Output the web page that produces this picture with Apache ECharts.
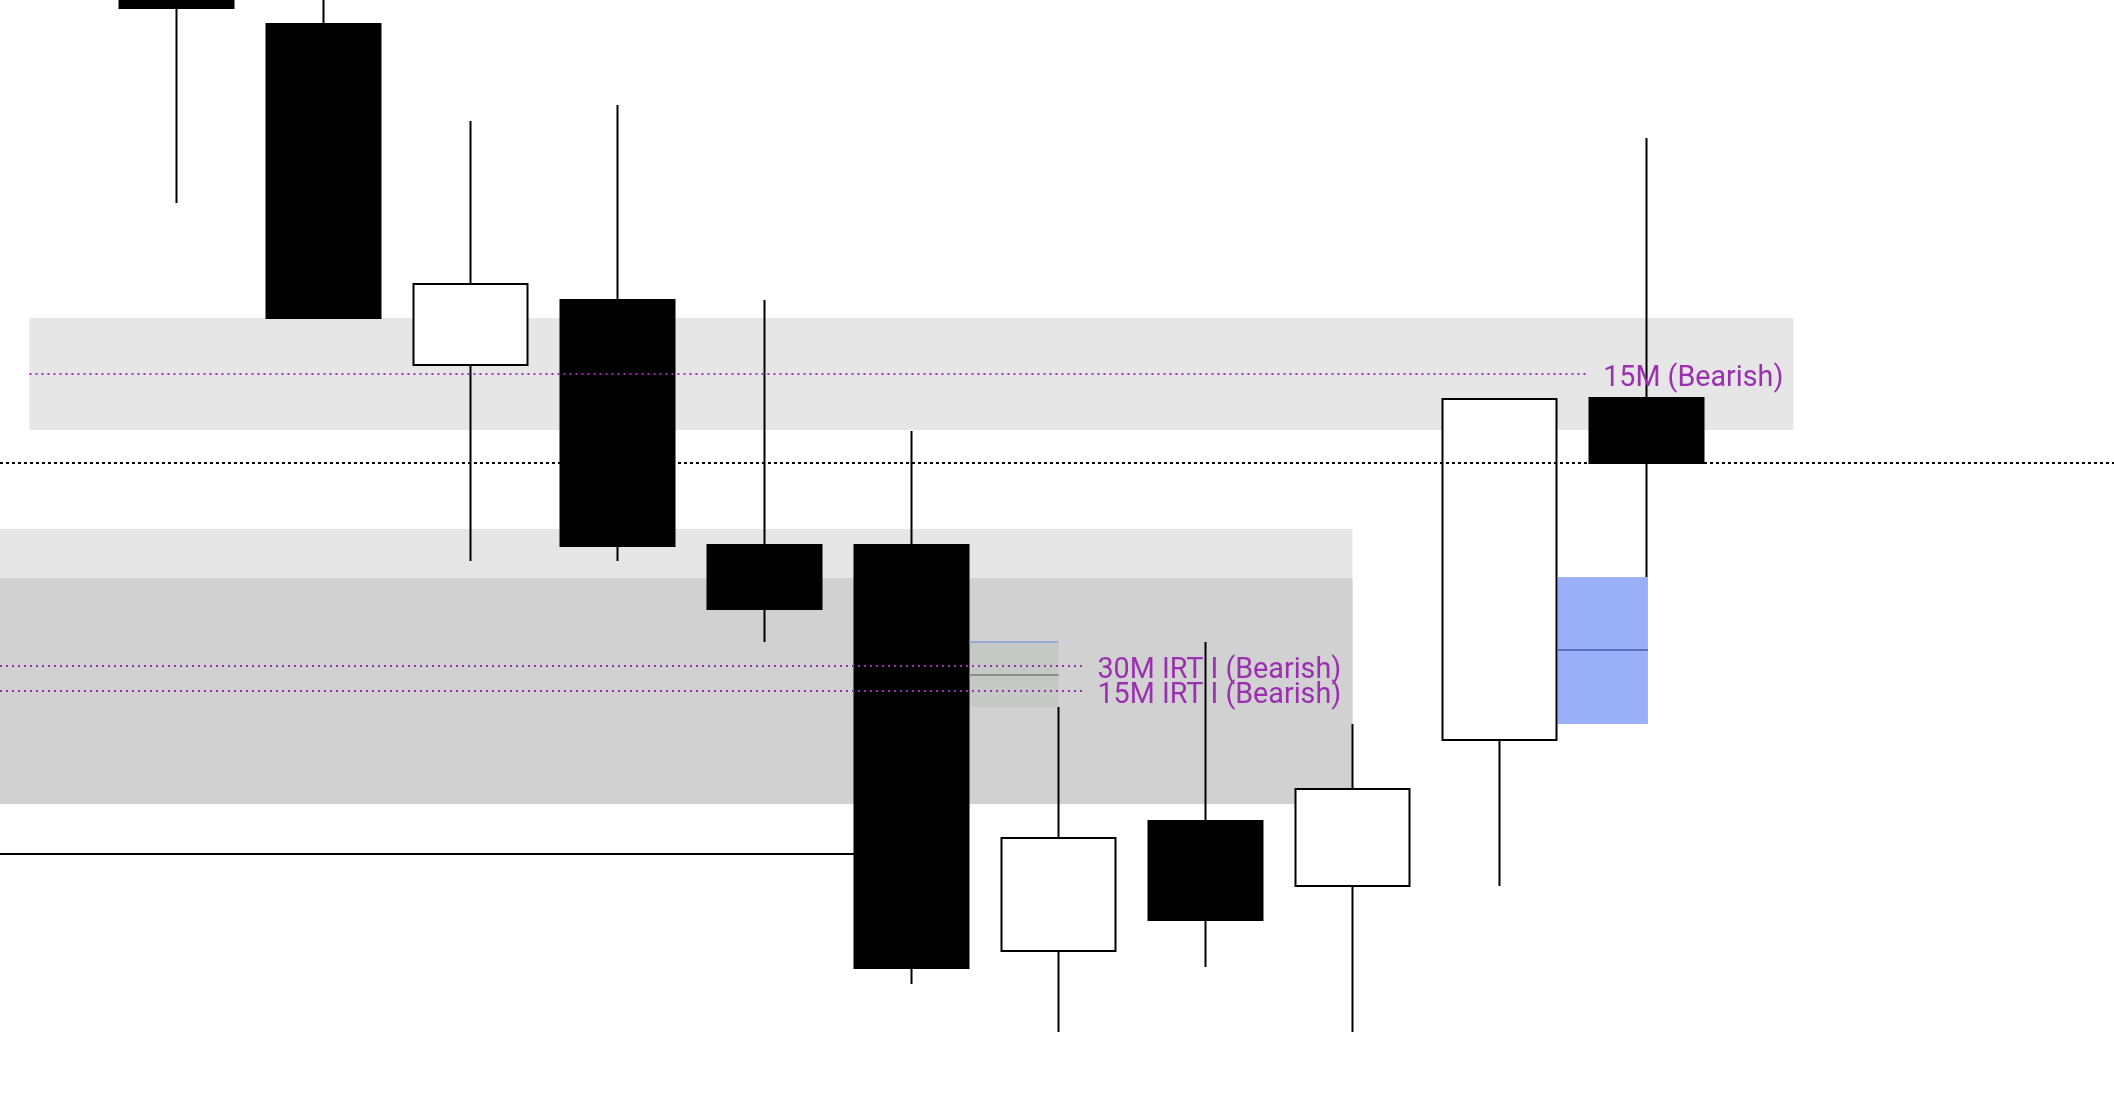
<!DOCTYPE html>
<html>
<head>
<meta charset="utf-8">
<script src="https://cdn.jsdelivr.net/npm/echarts@6/dist/echarts.min.js"></script>
<style>
html,body{margin:0;padding:0;background:#fff;}
#chart{width:2114px;height:1098px;}
</style>
</head>
<body>
<div id="chart"></div>
<script>
// candle slot positions (slot units along the time axis)
const slots  = [1, 2, 3, 4, 5, 6, 7, 8, 9, 10, 11];
const opens  = [1138, 1074, 733, 798, 553, 553, 147, 277, 212, 358, 700];
const closes = [1090,  780, 814, 552, 489, 130, 260, 178, 309, 699, 635];
const lows   = [ 895,  780, 537, 537, 456, 114,  66, 131,  66, 212, 521];
const highs  = [1178, 1128, 977, 993, 798, 667, 391, 456, 374, 699, 960];

// visible window of the time axis (slot units)
const xMin = -0.2007;
const xMax = 14.1803;

// zones: [xStart, xEnd, yLow, yHigh]
const zoneUpper = [0, 12, 668, 780];
const zoneLowerLight = [xMin, 9, 294, 569];
const zoneLowerDark = [xMin, 9, 294, 520];
const gapSmall = [6.395, 7.0, 391, 456];
const gapSmallMid = 423;
const gapBlue = [10.395, 11.01, 374, 521];
const gapBlueMid = 448;

// levels
const levelNames = ['15M (Bearish)', '30M IRT I (Bearish)', '15M IRT I (Bearish)'];
const levelValues = [724, 432, 407];
const levelStarts = [0, xMin, xMin];
const levelEnds = [10.61, 7.17, 7.17];
const closeLevel = 635;
const oldLevel = 244;
const oldLevelEnd = 6;

const candleData = slots.map((s, i) => [s, opens[i], closes[i], lows[i], highs[i]]);

function rect(z, color) {
  return [{coord: [z[0], z[3]], itemStyle: {color: color}}, {coord: [z[1], z[2]]}];
}
function hline(x1, x2, y, name) {
  return [{coord: [x1, y], name: name || ''}, {coord: [x2, y]}];
}

const labelFont = {fontFamily: 'Roboto', fontSize: 28.7, color: '#9a30b0'};

const option = {
  animation: false,
  backgroundColor: '#ffffff',
  grid: {left: 0, right: 0, top: 0, bottom: 0, containLabel: false},
  xAxis: {type: 'value', min: xMin, max: xMax, show: false, splitLine: {show: false}},
  yAxis: {type: 'value', min: 0, max: 1098, show: false, splitLine: {show: false}},
  series: [
    {
      type: 'line', data: [], z: 1, silent: true, clip: false,
      markArea: {
        silent: true,
        data: [
          rect(zoneUpper, '#e6e6e6'),
          rect(zoneLowerLight, '#e6e6e6'),
          rect(zoneLowerDark, '#d1d1d1')
        ]
      }
    },
    {
      type: 'line', data: [], z: 2, silent: true, clip: false,
      markLine: {
        silent: true, symbol: ['none', 'none'],
        lineStyle: {color: '#9a30b0', width: 2, type: [2, 4]},
        label: Object.assign({show: true, position: 'end', distance: 14, offset: [0, 5], formatter: '{b}'}, labelFont),
        data: levelNames.map((n, i) => hline(levelStarts[i], levelEnds[i], levelValues[i], n))
      }
    },
    {
      type: 'line', data: [], z: 2, silent: true, clip: false,
      markLine: {
        silent: true, symbol: ['none', 'none'],
        lineStyle: {color: '#000000', width: 2, type: 'solid'},
        label: {show: false},
        data: [hline(xMin, oldLevelEnd, oldLevel)]
      }
    },
    {
      type: 'candlestick', z: 3,
      data: candleData,
      encode: {x: 0, y: [1, 2, 3, 4]},
      barWidth: 114,
      itemStyle: {color: '#ffffff', color0: '#000000', borderColor: '#000000', borderColor0: '#000000', borderWidth: 2}
    },
    {
      type: 'line', data: [], z: 4, silent: true, clip: false,
      markLine: {
        silent: true, symbol: ['none', 'none'],
        lineStyle: {color: '#000000', width: 2, type: [3, 3]},
        label: {show: false},
        data: [hline(xMin, xMax, closeLevel)]
      }
    },
    {
      type: 'line', data: [], z: 5, silent: true, clip: false,
      markArea: {
        silent: true,
        data: [
          rect(gapSmall, 'rgba(169,182,169,0.3)'),
          rect(gapBlue, '#99b0f8')
        ]
      }
    },
    {
      type: 'line', data: [], z: 6, silent: true, clip: false,
      markLine: {
        silent: true, symbol: ['none', 'none'],
        label: {show: false},
        data: [
          [{coord: [gapSmall[0], gapSmall[3]], lineStyle: {color: '#9aa8d0', width: 2, type: 'solid'}}, {coord: [gapSmall[1], gapSmall[3]]}],
          [{coord: [gapSmall[0], gapSmallMid], lineStyle: {color: '#8c8e8c', width: 2, type: 'solid'}}, {coord: [gapSmall[1], gapSmallMid]}],
          [{coord: [gapBlue[0], gapBlue[3]], lineStyle: {color: '#a8b4e0', width: 1, type: 'solid'}}, {coord: [gapBlue[1], gapBlue[3]]}],
          [{coord: [gapBlue[0], gapBlueMid], lineStyle: {color: '#5b6fc0', width: 2, type: 'solid'}}, {coord: [gapBlue[1], gapBlueMid]}]
        ]
      }
    }
  ]
};

const chart = echarts.init(document.getElementById('chart'));
chart.setOption(option);
</script>
</body>
</html>
